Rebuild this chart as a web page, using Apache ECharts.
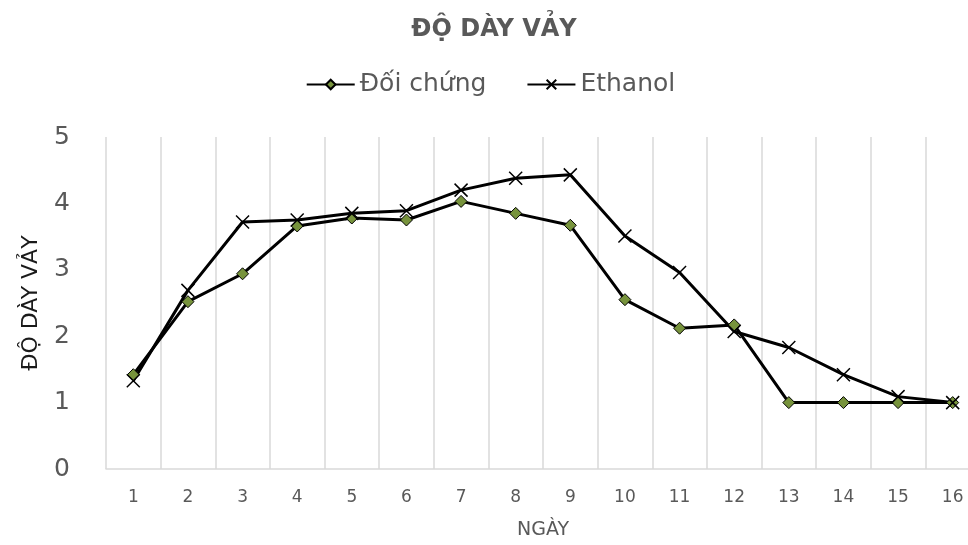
<!DOCTYPE html>
<html>
<head>
<meta charset="utf-8">
<script src="https://cdn.jsdelivr.net/npm/echarts@6/dist/echarts.min.js"></script>
<style>html,body{margin:0;padding:0;background:#fff;overflow:hidden;width:968px;height:545px}#c{width:981px;height:545px}</style>
</head>
<body>
<div id="c"></div>
<script>
const categories = ['1','2','3','4','5','6','7','8','9','10','11','12','13','14','15','16'];
const doiChung = [1.42, 2.52, 2.94, 3.66, 3.78, 3.75, 4.03, 3.85, 3.67, 2.55, 2.12, 2.17, 1.0, 1.0, 1.0, 1.0];
const ethanol = [1.33, 2.69, 3.72, 3.75, 3.85, 3.89, 4.2, 4.38, 4.43, 3.51, 2.96, 2.07, 1.83, 1.42, 1.09, 1.0];
const yTicks = {min: 0, max: 5, interval: 1};

const chart = echarts.init(document.getElementById('c'));
const xPath = 'path://M0,0L10,10M10,0L0,10';
chart.setOption({
  animation: false,
  backgroundColor: '#fff',
  title: {
    text: 'ĐỘ DÀY VẢY',
    left: 489, top: 13, textAlign: 'center',
    textStyle: {fontFamily: 'DejaVu Sans', fontWeight: 'bold', fontSize: 24, color: '#595959'}
  },
  legend: {
    top: 67, left: 'center',
    itemWidth: 48, itemHeight: 12, itemGap: 40,
    textStyle: {fontFamily: 'DejaVu Sans', fontSize: 25, color: '#595959'},
    data: ['Đối chứng', 'Ethanol']
  },
  grid: {left: 106, right: 1, top: 137, bottom: 76, containLabel: false},
  xAxis: {
    type: 'category', data: categories, boundaryGap: true,
    name: 'NGÀY', nameLocation: 'middle', nameGap: 52,
    nameTextStyle: {fontFamily: 'DejaVu Sans', fontSize: 19, color: '#595959'},
    axisLine: {lineStyle: {color: '#d9d9d9', width: 1.5}},
    axisTick: {show: false},
    axisLabel: {margin: 20, fontFamily: 'DejaVu Sans', fontSize: 17, color: '#595959'},
    splitLine: {show: true, lineStyle: {color: '#d9d9d9', width: 1.5}}
  },
  yAxis: {
    type: 'value', min: yTicks.min, max: yTicks.max, interval: yTicks.interval,
    name: 'ĐỘ DÀY VẢY', nameLocation: 'middle', nameGap: 64, nameRotate: 90,
    nameTextStyle: {fontFamily: 'DejaVu Sans', fontSize: 22, color: '#1a1a1a'},
    axisLine: {show: false}, axisTick: {show: false},
    axisLabel: {margin: 36, fontFamily: 'DejaVu Sans', fontSize: 25, color: '#595959'},
    splitLine: {show: false}
  },
  series: [
    {
      name: 'Đối chứng', type: 'line', data: doiChung,
      symbol: 'diamond', symbolSize: 12,
      lineStyle: {color: '#000', width: 3},
      itemStyle: {color: '#77933c', borderColor: '#000', borderWidth: 1}
    },
    {
      name: 'Ethanol', type: 'line', data: ethanol,
      symbol: xPath, symbolSize: 13,
      lineStyle: {color: '#000', width: 3},
      itemStyle: {color: '#000', borderColor: '#000', borderWidth: 1.5}
    }
  ]
});
</script>
</body>
</html>
